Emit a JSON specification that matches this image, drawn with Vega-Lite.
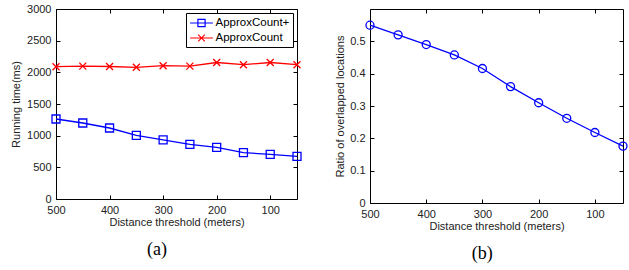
{
  "$schema": "https://vega.github.io/schema/vega-lite/v6.json",
  "padding": {"left": 10, "top": 2, "right": 0, "bottom": 0},
  "spacing": 29,
  "datasets": {
    "timing": [
      {"d": 500, "series": "ApproxCount+", "t": 1263},
      {"d": 450, "series": "ApproxCount+", "t": 1200},
      {"d": 400, "series": "ApproxCount+", "t": 1121},
      {"d": 350, "series": "ApproxCount+", "t": 1005},
      {"d": 300, "series": "ApproxCount+", "t": 932},
      {"d": 250, "series": "ApproxCount+", "t": 863},
      {"d": 200, "series": "ApproxCount+", "t": 816},
      {"d": 150, "series": "ApproxCount+", "t": 732},
      {"d": 100, "series": "ApproxCount+", "t": 705},
      {"d": 50, "series": "ApproxCount+", "t": 674},
      {"d": 500, "series": "ApproxCount", "t": 2089},
      {"d": 450, "series": "ApproxCount", "t": 2098},
      {"d": 400, "series": "ApproxCount", "t": 2092},
      {"d": 350, "series": "ApproxCount", "t": 2079},
      {"d": 300, "series": "ApproxCount", "t": 2105},
      {"d": 250, "series": "ApproxCount", "t": 2098},
      {"d": 200, "series": "ApproxCount", "t": 2155},
      {"d": 150, "series": "ApproxCount", "t": 2121},
      {"d": 100, "series": "ApproxCount", "t": 2155},
      {"d": 50, "series": "ApproxCount", "t": 2121}
    ],
    "ratio": [
      {"d": 500, "r": 0.55},
      {"d": 450, "r": 0.52},
      {"d": 400, "r": 0.49},
      {"d": 350, "r": 0.458},
      {"d": 300, "r": 0.416},
      {"d": 250, "r": 0.36},
      {"d": 200, "r": 0.31},
      {"d": 150, "r": 0.262},
      {"d": 100, "r": 0.218},
      {"d": 50, "r": 0.176}
    ]
  },
  "resolve": {"legend": {"color": "independent", "shape": "independent"}},
  "hconcat": [
    {
      "width": 241,
      "height": 190,
      "data": {"name": "timing"},
      "title": {"text": "(a)", "orient": "bottom", "frame": "bounds", "anchor": "middle", "font": "Liberation Serif", "fontSize": 18, "fontWeight": "normal", "offset": 14, "color": "#000"},
      "layer": [
        {
          "mark": {"type": "line", "strokeWidth": 1.3},
          "encoding": {
            "x": {"field": "d", "type": "quantitative", "scale": {"domain": [50, 500], "reverse": true, "nice": false, "zero": false},
                  "axis": {"orient": "bottom", "values": [100, 200, 300, 400, 500], "title": "Distance threshold (meters)", "titlePadding": 1}},
            "y": {"field": "t", "type": "quantitative", "scale": {"domain": [0, 3000], "nice": false},
                  "axis": {"orient": "left", "values": [0, 500, 1000, 1500, 2000, 2500, 3000], "format": "d", "title": "Running time(ms)", "titlePadding": 5}},
            "color": {"field": "series", "type": "nominal", "scale": {"domain": ["ApproxCount+", "ApproxCount"], "range": ["#0000ff", "#ff0000"]},
                      "legend": {
                        "title": null, "orient": "top-right", "offset": 4,
                        "strokeColor": "#000", "fillColor": "#fff", "padding": 3,
                        "labelFont": "Liberation Sans", "labelFontSize": 11.5, "labelColor": "#000",
                        "symbolSize": 144, "symbolOffset": 5.5, "labelOffset": 7, "rowPadding": 2, "symbolStrokeWidth": 1.2
                      }}
          }
        },
        {
          "transform": [{"filter": "datum.series === 'ApproxCount+'"}],
          "mark": {"type": "point", "filled": false, "strokeWidth": 1.3, "opacity": 1, "shape": "square", "size": 64},
          "encoding": {
            "x": {"field": "d", "type": "quantitative", "axis": {"orient": "top", "values": [100, 200, 300, 400, 500], "labels": false, "title": null}},
            "y": {"field": "t", "type": "quantitative", "axis": {"orient": "right", "values": [0, 500, 1000, 1500, 2000, 2500, 3000], "labels": false, "title": null}},
            "color": {"field": "series", "type": "nominal"}
          }
        },
        {
          "transform": [{"filter": "datum.series === 'ApproxCount'"}],
          "mark": {"type": "point", "filled": false, "strokeWidth": 1.3, "opacity": 1, "shape": "M-1,-1L1,1M-1,1L1,-1", "size": 49},
          "encoding": {
            "x": {"field": "d", "type": "quantitative", "axis": null},
            "y": {"field": "t", "type": "quantitative", "axis": null},
            "color": {"field": "series", "type": "nominal"}
          }
        },
        {
          "transform": [{"filter": "datum.d > 1000"}],
          "mark": {"type": "point", "filled": false, "strokeWidth": 1.2, "opacity": 1, "size": 144},
          "encoding": {
            "x": {"field": "d", "type": "quantitative", "axis": null},
            "y": {"field": "t", "type": "quantitative", "axis": null},
            "color": {"field": "series", "type": "nominal"},
            "shape": {"field": "series", "type": "nominal", "scale": {"domain": ["ApproxCount+", "ApproxCount"], "range": ["M-1.9,0L1.9,0M-0.6,-0.6L0.6,-0.6L0.6,0.6L-0.6,0.6Z", "M-1.9,0L1.9,0M-0.55,-0.55L0.55,0.55M-0.55,0.55L0.55,-0.55"]}}
          }
        }
      ],
      "resolve": {"axis": {"x": "independent", "y": "independent"}}
    },
    {
      "width": 253,
      "height": 194,
      "data": {"name": "ratio"},
      "title": {"text": "(b)", "orient": "bottom", "frame": "bounds", "anchor": "middle", "font": "Liberation Serif", "fontSize": 18, "fontWeight": "normal", "offset": 14, "color": "#000"},
      "layer": [
        {
          "mark": {"type": "line", "strokeWidth": 1.3, "color": "#0000ff"},
          "encoding": {
            "x": {"field": "d", "type": "quantitative", "scale": {"domain": [50, 500], "reverse": true, "nice": false, "zero": false},
                  "axis": {"orient": "bottom", "values": [100, 200, 300, 400, 500], "title": "Distance threshold (meters)", "titlePadding": 1}},
            "y": {"field": "r", "type": "quantitative", "scale": {"domain": [0, 0.6], "nice": false},
                  "axis": {"orient": "left", "values": [0, 0.1, 0.2, 0.3, 0.4, 0.5], "format": "~g", "title": "Ratio of overlapped locations", "titlePadding": 4}}
          }
        },
        {
          "mark": {"type": "point", "filled": false, "strokeWidth": 1.3, "color": "#0000ff", "opacity": 1, "shape": "circle", "size": 64},
          "encoding": {
            "x": {"field": "d", "type": "quantitative", "axis": {"orient": "top", "values": [100, 200, 300, 400, 500], "labels": false, "title": " ", "titleFontSize": 3, "titlePadding": 0}},
            "y": {"field": "r", "type": "quantitative", "axis": {"orient": "right", "values": [0, 0.1, 0.2, 0.3, 0.4, 0.5], "labels": false, "title": null}}
          }
        }
      ],
      "resolve": {"axis": {"x": "independent", "y": "independent"}}
    }
  ],
  "config": {
    "view": {"stroke": "#000", "strokeWidth": 1},
    "axis": {
      "labelFont": "Liberation Sans", "titleFont": "Liberation Sans",
      "labelFontSize": 11, "titleFontSize": 11, "titleFontWeight": "normal",
      "labelColor": "#222", "titleColor": "#222",
      "grid": false, "domain": false, "tickColor": "#000", "tickSize": -4, "tickWidth": 1,
      "labelPadding": 9, "labelFlush": false, "labelOverlap": false
    }
  }
}
